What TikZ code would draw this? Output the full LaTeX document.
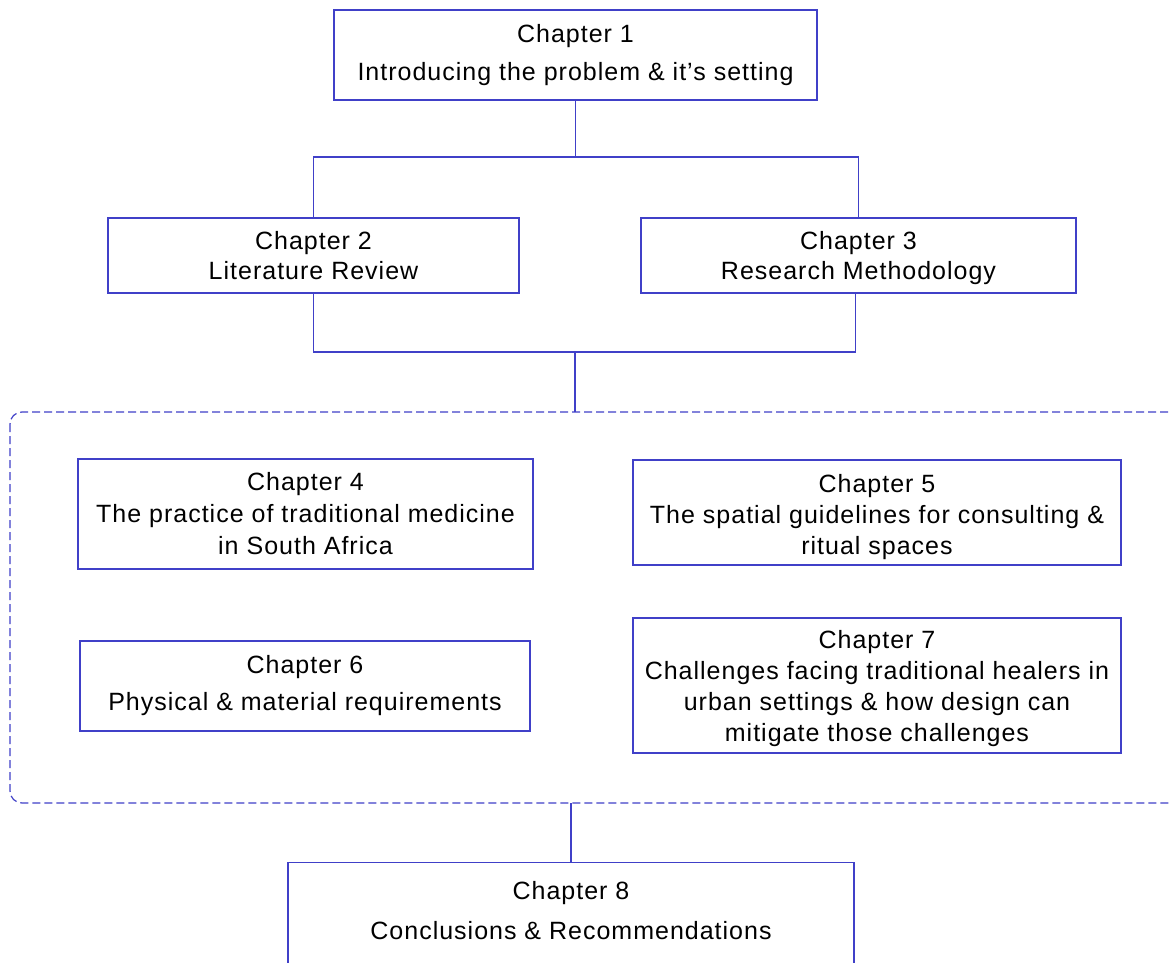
\documentclass[tikz,border=0pt]{standalone}
\usepackage{fontspec}
\setmainfont{Liberation Sans}[LetterSpace=4]
\usetikzlibrary{calc}
\definecolor{edge}{RGB}{64,64,200}
\newcommand{\topgap}[1]{\rule{0pt}{#1}}
\tikzset{
  chap/.style={draw=edge, line width=1.2pt, rectangle, inner sep=0pt, align=center, text=black},
  conn/.style={draw=edge, line width=1.2pt},
  grpbox/.style={draw=edge, line width=1.2pt, dash pattern=on 8pt off 4pt, rounded corners=12pt},
}
\begin{document}
\begin{tikzpicture}[x=1pt, y=-1pt]
  \useasboundingbox (0,0) rectangle (1171,962);
  \fill[white] (0,0) rectangle (1171,962);

  % chapter boxes: centre, width, height
  \node[chap, minimum width=483pt, minimum height=90pt, font=\fontsize{25}{38}\selectfont]
    (ch1) at (575.5,55) {Chapter 1\\Introducing the problem \& it's setting};
  \node[chap, minimum width=411pt, minimum height=75pt, font=\fontsize{25}{30}\selectfont]
    (ch2) at (313.5,255.5) {Chapter 2\\Literature Review};
  \node[chap, minimum width=435pt, minimum height=75pt, font=\fontsize{25}{30}\selectfont]
    (ch3) at (858.5,255.5) {\topgap{22.5pt}Chapter 3\\Research Methodology};

  % grouped chapters 4 to 7
  \draw[grpbox] (10,412) rectangle (1190,803);
  \coordinate (grptop) at (575,412);
  \coordinate (grpbot) at (571,803);

  \node[chap, minimum width=455pt, minimum height=110pt, font=\fontsize{25}{32}\selectfont]
    (ch4) at (305.5,514) {Chapter 4\\The practice of traditional medicine\\in South Africa};
  \node[chap, minimum width=488pt, minimum height=105pt, font=\fontsize{25}{31}\selectfont]
    (ch5) at (877,512.5) {\topgap{26.5pt}Chapter 5\\The spatial guidelines for consulting \&\\ritual spaces};
  \node[chap, minimum width=450pt, minimum height=90pt, font=\fontsize{25}{37}\selectfont]
    (ch6) at (305,686) {Chapter 6\\Physical \& material requirements};
  \node[chap, minimum width=488pt, minimum height=135pt, font=\fontsize{25}{31}\selectfont]
    (ch7) at (877,685.5) {\topgap{24.5pt}Chapter 7\\Challenges facing traditional healers in\\urban settings \& how design can\\mitigate those challenges};

  % last chapter, running past the lower edge
  \node[chap, minimum width=566pt, minimum height=140pt, anchor=north]
    (ch8) at (571,862) {};
  \node[align=center, inner sep=0pt, font=\fontsize{25}{40}\selectfont]
    (ch8text) at (571,911) {Chapter 8\\Conclusions \& Recommendations};

  % connectors
  \draw[conn] (ch1.south) -- (575.5,157) coordinate (j1);
  \draw[conn] (ch2.north) |- (j1) -| (ch3.north);
  \draw[conn] (ch2.south) |- (575,352) coordinate (j2);
  \draw[conn] (j2) -| ($(ch3.south)+(-3,0)$);
  \draw[conn] (j2) -- (grptop);
  \draw[conn] (grpbot) -- (ch8.north);
\end{tikzpicture}
\end{document}
